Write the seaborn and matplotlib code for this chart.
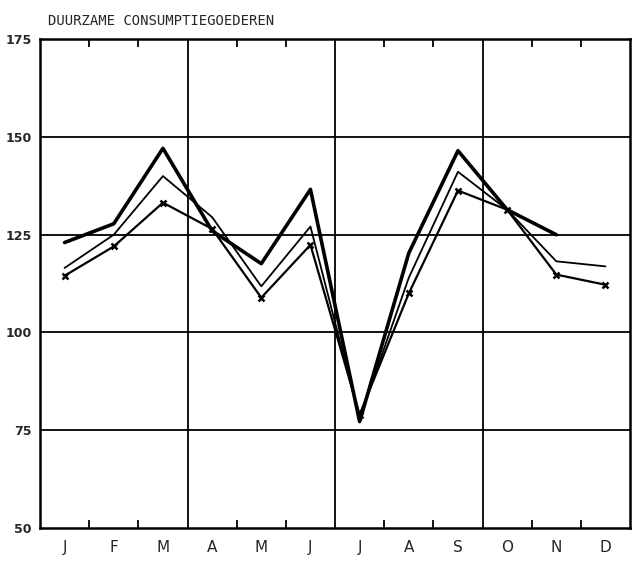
import matplotlib
matplotlib.use("Agg")
import matplotlib.pyplot as plt
import seaborn as sns
import numpy as np
import pandas as pd

# Data (index, 12 months)
months = ["J", "F", "M", "A", "M", "J", "J", "A", "S", "O", "N", "D"]
thick_line = [123.0, 127.8, 147.1, 126.0, 117.6, 136.6, 77.2, 120.3, 146.5, 131.4, 125.0, np.nan]
thin_line = [116.5, 125.0, 140.0, 129.5, 111.8, 127.1, 78.0, 114.0, 141.1, 131.4, 118.2, 116.9]
cross_line = [114.5, 122.0, 133.2, 126.5, 108.9, 122.4, 79.0, 110.0, 136.3, 131.4, 114.8, 112.2]
y_ticks = [50, 75, 100, 125, 150, 175]
title = "DUURZAME CONSUMPTIEGOEDEREN"

sns.set_style("white")
plt.rcParams["font.family"] = ["DejaVu Sans"]

fig = plt.figure(figsize=(6.4, 5.61), dpi=100)
ax = fig.add_axes([0.0625, 0.059, 0.922, 0.871])

x = np.arange(len(months))
sns.lineplot(x=x, y=thick_line, ax=ax, color="black", linewidth=2.6)
sns.lineplot(x=x, y=thin_line, ax=ax, color="black", linewidth=1.3)
sns.lineplot(x=x, y=cross_line, ax=ax, color="black", linewidth=1.6,
             marker="x", markersize=5, markeredgewidth=1.8,
             markeredgecolor="black", markerfacecolor="black")

ax.set_xlim(-0.5, 11.5)
ax.set_ylim(50, 175)

# grid: horizontal at each 25, vertical at quarter boundaries
for v in y_ticks[1:-1]:
    ax.axhline(v, color="black", linewidth=1.3, zorder=0)
for q in [2.5, 5.5, 8.5]:
    ax.axvline(q, color="black", linewidth=1.3, zorder=0)

for side in ["left", "right", "top", "bottom"]:
    ax.spines[side].set_color("black")
    ax.spines[side].set_linewidth(1.8)

ax.set_xticks(x)
ax.set_xticklabels(months, fontsize=11)
minor = [i + 0.5 for i in range(11) if i not in (2, 5, 8)]
ax.set_xticks(minor, minor=True)
ax.tick_params(axis="x", which="major", length=0, pad=9)
ax.tick_params(axis="x", which="minor", direction="in", length=6, width=1.3,
               top=True, bottom=True, color="black")

ax.set_yticks(y_ticks)
ax.set_yticklabels([str(v) for v in y_ticks], fontsize=9, fontweight="bold")
ax.tick_params(axis="y", length=0, pad=6)

fig.text(0.075, 0.975, title, fontsize=10, family="DejaVu Sans Mono",
         va="top", ha="left")

fig.savefig("out.png", dpi=100)
